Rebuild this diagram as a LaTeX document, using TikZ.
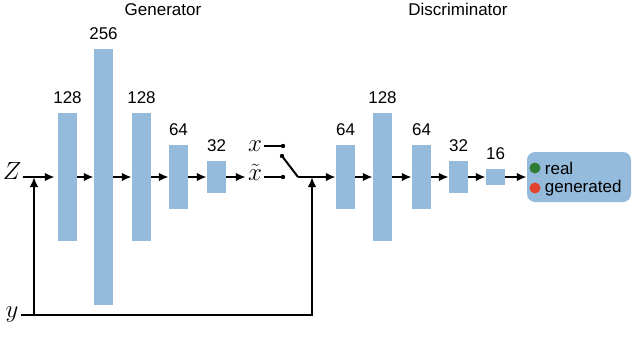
\documentclass[tikz,border=0pt]{standalone}
\usepackage{fontspec}
\setmainfont{Liberation Sans}
\usetikzlibrary{arrows.meta,positioning}
\definecolor{barblue}{RGB}{148,187,220}
\definecolor{realgreen}{RGB}{46,125,50}
\definecolor{genred}{RGB}{226,67,44}
\begin{document}
\begin{tikzpicture}[x=1pt,y=1pt,
  bar/.style={fill=barblue,inner sep=0,minimum width=19pt},
  arr/.style={line width=2pt,-{Latex[length=10pt,width=8.5pt]}},
  wire/.style={line width=2pt},
  txt/.style={font=\fontsize{17}{20}\selectfont},
  every label/.style={txt,inner sep=0},
  mth/.style={font=\fontsize{25}{30}\selectfont,inner sep=2pt},
  dot/.style={circle,inner sep=0,minimum size=11pt}]
\useasboundingbox (0,-161) rectangle (640,177);
\foreach \nm/\cx/\h in {g1/67.5/128,g2/103.5/256,g3/141.5/128,g4/178.5/64,g5/216.5/32,
  d1/345.5/64,d2/382.5/128,d3/421.5/64,d4/458.5/32,d5/495.5/16}
  \node[bar,minimum height=\h pt,label={[label distance=9pt]above:\h}] (\nm) at (\cx,0) {};
\foreach \a/\b in {g1/g2,g2/g3,g3/g4,g4/g5,d1/d2,d2/d3,d3/d4,d4/d5}
  \draw[arr] (\a) -- (\b);
\node[txt] (gen) at (163,167) {Generator};
\node[txt] (dis) at (458,168) {Discriminator};
\node[fill=barblue,rounded corners=8pt,minimum width=104pt,minimum height=50pt] (out) at (579,0) {};
\draw[arr] (d5) -- (out);
\node[dot,fill=realgreen] (gd) at (535,9) {};
\node[dot,fill=genred] (rd) at (535,-11) {};
\node[txt,inner sep=0,right=4pt of gd] (real) {real};
\node[txt,inner sep=0,right=4pt of rd] (fake) {generated};
\node[mth,anchor=base] (z) at (12,-2) {$Z$};
\node[mth,anchor=base] (yin) at (12,-140) {$y$};
\node[mth,anchor=base] (xr) at (255,26) {$x$};
\node[mth,anchor=base] (xf) at (255,-3) {$\tilde{x}$};
\coordinate (cx) at (283,31);
\coordinate (cf) at (283,0);
\coordinate (piv) at (282,21);
\coordinate (sw) at (298,0);
\coordinate (yl) at (34,-138);
\coordinate (yr) at (312,-138);
\draw[arr,shorten >=3pt] (z.east |- g1) -- (g1);
\draw[arr] (g5) -- (g5 -| xf.west);
\draw[wire] (xr.east |- cx) -- (cx);
\draw[wire] (xf.east |- cf) -- (cf);
\draw[wire] (piv) -- (sw);
\foreach \p in {cx,cf,piv} \fill (\p) circle (2.2pt);
\draw[arr] (sw) -- (d1);
\draw[arr] (yin.east |- yl) -- (yr) -- (yr |- d1);
\draw[arr] (yl) -- (yl |- g1);
\end{tikzpicture}
\end{document}
